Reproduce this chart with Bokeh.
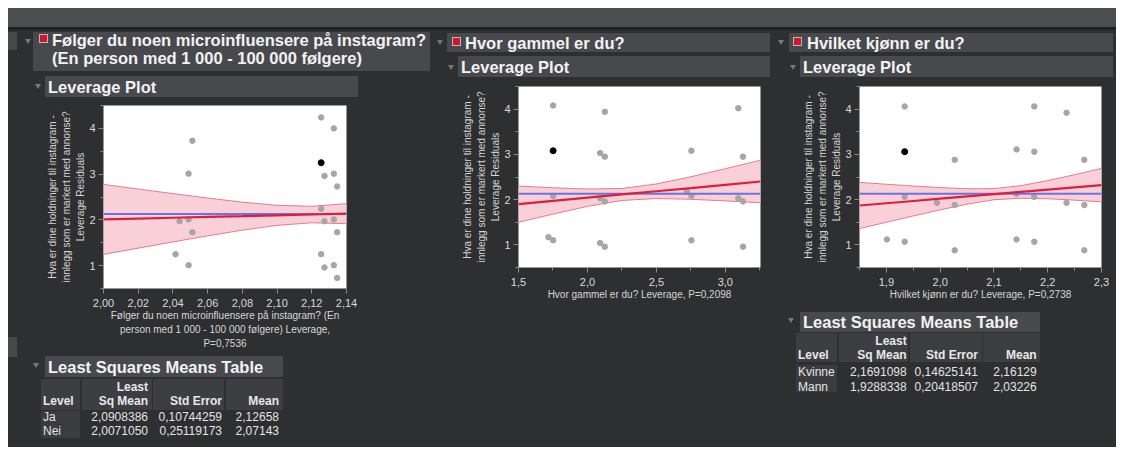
from bokeh.plotting import figure
from bokeh.layouts import column, row
from bokeh.models import Div, Spacer, Range1d, FixedTicker, CustomJSTickFormatter
from bokeh.embed import file_html
from bokeh.resources import INLINE

# ---------------- data ----------------
y_mean = 2.13

# Plot 1: Følger du noen microinfluensere ... (leverage)
x1 = [2.1254, 2.1327, 2.0512, 2.0490, 2.1273, 2.1327, 2.1346, 2.1254, 2.0438, 2.0490,
      2.1273, 2.1327, 2.0512, 2.1346, 2.0415, 2.1254, 2.0490, 2.1273, 2.1327, 2.1346]
y1 = [4.24, 4.00, 3.73, 3.01, 2.96, 3.01, 2.73, 2.24, 1.97, 2.01,
      1.97, 2.01, 1.73, 1.73, 1.25, 1.25, 1.01, 0.96, 1.01, 0.73]
x1_sel = [2.1254]
y1_sel = [3.25]
band_x1 = [2.00, 2.02, 2.04, 2.06, 2.08, 2.10, 2.12, 2.14]
fit_1 = [2.010, 2.028, 2.046, 2.064, 2.081, 2.099, 2.117, 2.135]
upper_1 = [2.775, 2.674, 2.574, 2.477, 2.387, 2.318, 2.297, 2.354]
lower_1 = [1.245, 1.382, 1.518, 1.651, 1.775, 1.880, 1.937, 1.916]
xticks_1 = [2.00, 2.02, 2.04, 2.06, 2.08, 2.10, 2.12, 2.14]

# Plot 2: Hvor gammel er du?
x2 = [1.751, 2.126, 3.094, 2.092, 2.126, 2.754, 3.128, 1.751, 2.092, 2.126,
      2.720, 2.754, 3.094, 3.128, 1.717, 1.751, 2.092, 2.126, 2.754, 3.128]
y2 = [4.08, 3.94, 4.02, 3.03, 2.95, 3.08, 2.95, 2.08, 2.03, 1.96,
      2.18, 2.08, 2.03, 1.96, 1.17, 1.10, 1.04, 0.96, 1.10, 0.96]
x2_sel = [1.751]
y2_sel = [3.08]
band_x2 = [1.50, 1.75, 2.00, 2.25, 2.50, 2.75, 3.00, 3.255]
fit_2 = [1.900, 1.971, 2.043, 2.114, 2.185, 2.256, 2.328, 2.400]
upper_2 = [2.300, 2.262, 2.235, 2.246, 2.346, 2.505, 2.684, 2.870]
lower_2 = [1.500, 1.680, 1.851, 1.982, 2.024, 2.007, 1.972, 1.930]
xticks_2 = [1.5, 2.0, 2.5, 3.0]
xminor_2 = [1.75, 2.25, 2.75, 3.25]

# Plot 3: Hvilket kjønn er du?
x3 = [1.934, 2.175, 2.235, 2.027, 2.142, 2.175, 2.268, 1.934, 1.994, 2.027,
      2.142, 2.175, 2.235, 2.268, 1.901, 1.934, 2.027, 2.142, 2.175, 2.268]
y3 = [4.06, 4.06, 3.92, 2.88, 3.11, 3.06, 2.88, 2.06, 1.93, 1.88,
      2.13, 2.06, 1.93, 1.88, 1.12, 1.07, 0.88, 1.12, 1.07, 0.88]
x3_sel = [1.934]
y3_sel = [3.06]
band_x3 = [1.85, 1.90, 1.95, 2.00, 2.05, 2.10, 2.15, 2.20, 2.25, 2.30]
fit_3 = [1.87, 1.92, 1.97, 2.02, 2.07, 2.12, 2.17, 2.22, 2.27, 2.32]
upper_3 = [2.380, 2.340, 2.301, 2.266, 2.240, 2.243, 2.308, 2.421, 2.552, 2.689]
lower_3 = [1.360, 1.500, 1.639, 1.774, 1.900, 1.997, 2.032, 2.019, 1.988, 1.951]
xticks_3 = [1.9, 2.0, 2.1, 2.2, 2.3]
xminor_3 = [1.85, 1.95, 2.05, 2.15, 2.25]

yticks = [1, 2, 3, 4]
yminor = [0.5, 1.5, 2.5, 3.5, 4.5]

# Least squares means tables
t1_level = ["Ja", "Nei"]
t1_lsmean = ["2,0908386", "2,0071050"]
t1_stderr = ["0,10744259", "0,25119173"]
t1_mean = ["2,12658", "2,07143"]
t3_level = ["Kvinne", "Mann"]
t3_lsmean = ["2,1691098", "1,9288338"]
t3_stderr = ["0,14625141", "0,20418507"]
t3_mean = ["2,16129", "2,03226"]

title_1 = "Følger du noen microinfluensere på instagram?<br>(En person med 1 000 - 100 000 følgere)"
title_2 = "Hvor gammel er du?"
title_3 = "Hvilket kjønn er du?"
ylabel = "Hva er dine holdninger til instagram -\ninnlegg som er markert med annonse?\nLeverage Residuals"
xlabel_1 = "Følger du noen microinfluensere på instagram? (En\nperson med 1 000 - 100 000 følgere) Leverage,\nP=0,7536"
xlabel_2 = "Hvor gammel er du? Leverage, P=0,2098"
xlabel_3 = "Hvilket kjønn er du? Leverage, P=0,2738"

# ---------------- style ----------------
BG = "#2e2f31"
BAR = "#48494c"
CELL = "#3d3e41"
LEVCELL = "#3b3c3f"
FONT = "'Liberation Sans', Arial, sans-serif"


def box(l, t, w, h, c, extra=""):
    return (f'<div style="position:absolute;left:{l}px;top:{t}px;width:{w}px;'
            f'height:{h}px;background:{c};{extra}"></div>')


def tri(l, t):
    return (f'<div style="position:absolute;left:{l}px;top:{t}px;width:0;height:0;'
            f'border-left:3px solid transparent;border-right:3px solid transparent;'
            f'border-top:5px solid #78787b;"></div>')


def icon(l, t):
    return (f'<div style="position:absolute;left:{l}px;top:{t}px;width:9px;height:9px;'
            f'background:#cf1530;border:1px solid #b8b8bb;"></div>')


def txt(l, cy, s, size, bold=False, color="#f2f2f2", lh=None, right=None):
    lh = lh or round(size * 1.2)
    top = cy - lh / 2
    weight = "bold" if bold else "normal"
    if right is not None:
        pos = f"left:{right - 200}px;width:200px;text-align:right;"
    else:
        pos = f"left:{l}px;"
    return (f'<div style="position:absolute;{pos}top:{top}px;line-height:{lh}px;'
            f'font-size:{size}px;font-weight:{weight};color:{color};white-space:nowrap;">{s}</div>')


def panel(w, h, inner, bg=BG):
    html = (f'<div style="position:relative;width:{w}px;height:{h}px;background:{bg};'
            f'overflow:hidden;font-family:{FONT};">{inner}</div>')
    return Div(text=html, width=w, height=h, margin=0)


def lsm_table(w, h, tri_xy, bar, title_cy, cells, hdr_top, hdr_h, lev_top, lev_h,
              least_cy, hdr_cy, row_cy, lev_x, rights, level, lsm, se, mean):
    s = tri(*tri_xy)
    s += box(bar[0], bar[1], bar[2], bar[3], BAR)
    s += txt(bar[0] + 3, title_cy, "Least Squares Means Table", 16.5, bold=True)
    for (a, b) in cells:
        s += box(a, hdr_top, b - a, hdr_h, CELL)
    s += box(cells[0][0], lev_top, cells[0][1] - cells[0][0], lev_h, LEVCELL)
    s += txt(0, least_cy, "Least", 12, bold=True, color="#e8e8e8", right=rights[0])
    s += txt(lev_x, hdr_cy, "Level", 12, bold=True, color="#e8e8e8")
    s += txt(0, hdr_cy, "Sq Mean", 12, bold=True, color="#e8e8e8", right=rights[0])
    s += txt(0, hdr_cy, "Std Error", 12, bold=True, color="#e8e8e8", right=rights[1])
    s += txt(0, hdr_cy, "Mean", 12, bold=True, color="#e8e8e8", right=rights[2])
    for i in range(len(level)):
        s += txt(lev_x, row_cy[i], level[i], 12, color="#e4e4e4")
        s += txt(0, row_cy[i], lsm[i], 12, color="#e4e4e4", right=rights[0])
        s += txt(0, row_cy[i], se[i], 12, color="#e4e4e4", right=rights[1])
        s += txt(0, row_cy[i], mean[i], 12, color="#e4e4e4", right=rights[2])
    return panel(w, h, s)


def leverage_plot(width, height, left, top, fw, fh, xr, xticks, xminor, xdec, xlabel,
                  xs, ys, sx, sy, bx, fit, up, lo, x_title_standoff=0):
    right = width - left - fw
    bottom = height - top - fh
    p = figure(width=width, height=height, x_range=Range1d(*xr), y_range=Range1d(0.5, 4.5),
               output_backend="svg", toolbar_location=None, title=None,
               min_border_left=left, min_border_right=right,
               min_border_top=top, min_border_bottom=bottom,
               background_fill_color="white", border_fill_color=BG,
               outline_line_color=None)
    p.grid.visible = False
    p.varea(x=bx, y1=lo, y2=up, fill_color="#f9d0d7", fill_alpha=1.0)
    p.line(bx, up, line_color="#e57c8c", line_width=1)
    p.line(bx, lo, line_color="#e57c8c", line_width=1)
    p.scatter(xs, ys, size=5.5, fill_color="#a6a6a6", line_color="#a6a6a6")
    p.line([bx[0], bx[-1]], [y_mean, y_mean], line_color="#6a72e6", line_width=2)
    p.line(bx, fit, line_color="#dd1f3c", line_width=2.2)
    p.scatter(sx, sy, size=6, fill_color="black", line_color="black")

    p.xaxis.ticker = FixedTicker(ticks=xticks, minor_ticks=xminor)
    p.yaxis.ticker = FixedTicker(ticks=yticks, minor_ticks=yminor)
    p.xaxis.formatter = CustomJSTickFormatter(code=f"return tick.toFixed({xdec}).replace('.', ',');")
    p.yaxis.formatter = CustomJSTickFormatter(code="return tick.toFixed(0);")
    p.xaxis.axis_label = xlabel
    p.yaxis.axis_label = ylabel
    for ax in (p.xaxis[0], p.yaxis[0]):
        ax.axis_line_color = None
        ax.major_tick_line_color = "#8c8c8e"
        ax.minor_tick_line_color = "#8c8c8e"
        ax.major_tick_in = 0
        ax.major_tick_out = 5
        ax.minor_tick_in = 0
        ax.minor_tick_out = 3
        ax.major_label_text_color = "#dadada"
        ax.major_label_text_font = "Liberation Sans"
        ax.major_label_text_font_size = "11px"
        ax.major_label_text_line_height = 1.0
        ax.axis_label_text_color = "#d6d6d6"
        ax.axis_label_text_font = "Liberation Sans"
        ax.axis_label_text_font_style = "normal"
        ax.axis_label_text_font_size = "10px"
        ax.axis_label_text_line_height = 1.3
    p.xaxis.major_label_standoff = 5
    p.xaxis.axis_label_standoff = x_title_standoff
    p.yaxis.major_label_standoff = 3
    p.yaxis.axis_label_standoff = 0
    return p


# ---------------- column 1 ----------------
strip = panel(9, 417, box(0, 2, 9, 18, BAR) + box(0, 307, 9, 20, BAR))
h1 = panel(413, 46,
           tri(8, 9) + box(16, 2, 397, 39, BAR) + icon(22, 4) +
           f'<div style="position:absolute;left:35px;top:1px;line-height:18px;font-size:16.5px;'
           f'font-weight:bold;color:#f2f2f2;white-space:nowrap;">{title_1}</div>')
lev1 = panel(413, 21, tri(18, 8) + box(28, 0, 313, 21, BAR) +
             txt(31, 10.5, "Leverage Plot", 16.5, bold=True))
p1 = leverage_plot(413, 255, 86, 8, 243, 183, (2.00, 2.14), xticks_1, [], 2, xlabel_1,
                   x1, y1, x1_sel, y1_sel, band_x1, fit_1, upper_1, lower_1)
tab1 = lsm_table(413, 95, (16, 11), (28, 4, 238, 21), 14.5,
                 [(24, 63), (65, 135), (136, 207), (209, 266)], 27, 31, 59, 27,
                 34.7, 48.7, [64.7, 78.7], 26, [131, 205, 262],
                 t1_level, t1_lsmean, t1_stderr, t1_mean)
col1 = row(strip, column(h1, lev1, p1, tab1, spacing=0), spacing=0)

# ---------------- column 2 ----------------
h2 = panel(340, 24, tri(7, 10) + box(17, 3, 323, 19, BAR) + icon(22, 7) +
           txt(35, 12.7, title_2, 16.5, bold=True))
lev2 = panel(340, 24, tri(18, 11) + box(28, 2, 312, 21, BAR) +
             txt(31, 12.7, "Leverage Plot", 16.5, bold=True))
p2 = leverage_plot(340, 369, 88, 8, 242, 181, (1.5, 3.255), xticks_2, xminor_2, 1, xlabel_2,
                   x2, y2, x2_sel, y2_sel, band_x2, fit_2, upper_2, lower_2)
col2 = column(h2, lev2, p2, spacing=0)

# ---------------- column 3 ----------------
h3 = panel(346, 24, tri(8, 10) + box(19, 3, 324, 19, BAR) + icon(23, 7) +
           txt(37, 12.7, title_3, 16.5, bold=True))
lev3 = panel(346, 24, tri(20, 11) + box(30, 2, 313, 21, BAR) +
             txt(33, 12.7, "Leverage Plot", 16.5, bold=True))
p3 = leverage_plot(346, 232, 89, 8, 242, 181, (1.85, 2.30), xticks_3, xminor_3, 1, xlabel_3,
                   x3, y3, x3_sel, y3_sel, band_x3, fit_3, upper_3, lower_3)
tab3 = lsm_table(346, 137, (18, 8), (30, 2, 240, 20), 12,
                 [(26, 67), (69, 138), (140, 212), (213, 270)], 23, 29, 55, 27,
                 30.7, 45, [61.7, 76.7], 28, [136.7, 208, 266.7],
                 t3_level, t3_lsmean, t3_stderr, t3_mean)
col3 = column(h3, lev3, p3, tab3, spacing=0)

# ---------------- page ----------------
topband = panel(1108, 22, box(0, 0, 1108, 19, "#4c4d4f") + box(0, 19, 1108, 3, "#1f2022"))
dark = column(topband, row(col1, col2, col3, spacing=0), spacing=0,
              styles={"background-color": BG})
page = column(Spacer(width=1122, height=8),
              row(Spacer(width=8, height=439), dark, Spacer(width=6, height=439), spacing=0),
              Spacer(width=1122, height=12), spacing=0)

open("out.html", "w").write(file_html(page, INLINE))
